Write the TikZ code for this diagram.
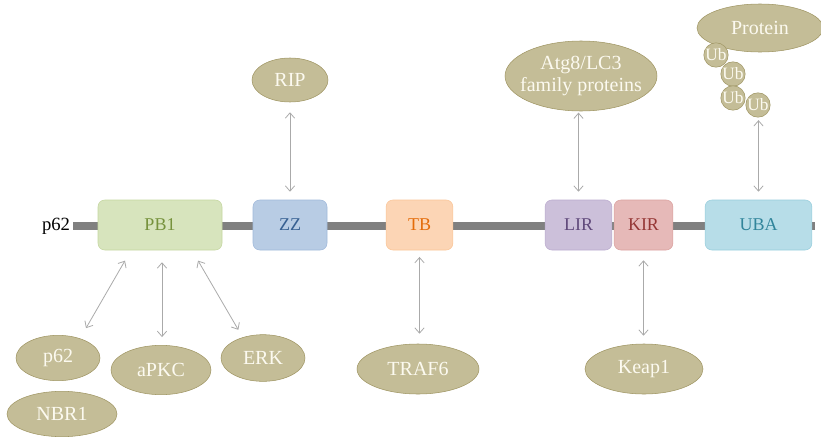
\documentclass[tikz,border=0pt]{standalone}
\usepackage{fontspec}
\setmainfont{Liberation Serif}
\usetikzlibrary{shapes.geometric,arrows.meta}
\definecolor{tan}{RGB}{196,189,151}
\definecolor{tanline}{RGB}{160,150,100}
\definecolor{tantext}{RGB}{252,250,240}
\definecolor{linkgray}{RGB}{170,170,170}
\definecolor{pbfill}{RGB}{215,228,189}
\definecolor{pbline}{RGB}{196,214,160}
\definecolor{pbtext}{RGB}{118,146,60}
\definecolor{zzfill}{RGB}{184,204,228}
\definecolor{zzline}{RGB}{160,185,218}
\definecolor{zztext}{RGB}{55,96,146}
\definecolor{tbfill}{RGB}{252,213,181}
\definecolor{tbline}{RGB}{250,196,150}
\definecolor{tbtext}{RGB}{228,108,10}
\definecolor{lirfill}{RGB}{204,192,218}
\definecolor{lirline}{RGB}{186,170,206}
\definecolor{lirtext}{RGB}{96,73,123}
\definecolor{kirfill}{RGB}{230,185,184}
\definecolor{kirline}{RGB}{218,160,158}
\definecolor{kirtext}{RGB}{149,55,53}
\definecolor{ubafill}{RGB}{183,221,232}
\definecolor{ubaline}{RGB}{150,205,220}
\definecolor{ubatext}{RGB}{49,133,155}
\begin{document}
\begin{tikzpicture}[x=0.75pt,y=-0.75pt,
    domainbox/.style={draw,rectangle,rounded corners=5pt,minimum height=37.5pt,inner sep=0pt,font=\fontsize{13.5}{15}\selectfont},
    partner/.style={ellipse,draw=tanline,fill=tan,text=tantext,inner sep=0pt,align=center,font=\fontsize{15}{17}\selectfont},
    ub/.style={circle,draw=tanline,fill=tan,text=tantext,minimum size=18pt,inner sep=0pt,font=\fontsize{13}{13}\selectfont},
    link/.style={<->,>={Straight Barb[length=4pt,width=7pt]},draw=linkgray,line width=0.6pt}]
    \useasboundingbox (0,0) rectangle (821,443);
    \coordinate (chainstart) at (73,226);
    \coordinate (chainend) at (815,226);
    \draw[line width=6pt,gray] (chainstart) -- (chainend);
    \node[left,inner sep=2pt,font=\fontsize{14}{16}\selectfont] (p62lbl) at (chainstart) {p62};
    \node[domainbox,draw=pbline,fill=pbfill,text=pbtext,minimum width=93pt] (pb1) at (160,225) {PB1};
    \node[domainbox,draw=zzline,fill=zzfill,text=zztext,minimum width=55.5pt] (zz) at (290,225) {ZZ};
    \node[domainbox,draw=tbline,fill=tbfill,text=tbtext,minimum width=50pt] (tb) at (419.5,225) {TB};
    \node[domainbox,draw=lirline,fill=lirfill,text=lirtext,minimum width=50pt] (lir) at (578.5,225) {LIR};
    \node[domainbox,draw=kirline,fill=kirfill,text=kirtext,minimum width=44pt] (kir) at (643.5,225) {KIR};
    \node[domainbox,draw=ubaline,fill=ubafill,text=ubatext,minimum width=80pt] (uba) at (758.5,225) {UBA};
    \node[partner,minimum width=57pt,minimum height=33pt] (rip) at (290,80) {RIP};
    \node[partner,inner xsep=-5.5pt,minimum width=114pt,minimum height=52.5pt] (atg) at (581,76) {Atg8/LC3\\family proteins};
    \node[partner,minimum width=94.5pt,minimum height=36pt] (protein) at (760,28) {Protein};
    \node[ub] (ubA) at (716,55) {Ub};
    \node[ub] (ubB) at (733,74) {Ub};
    \node[ub] (ubC) at (733,98) {Ub};
    \node[ub] (ubD) at (758,105) {Ub};
    \node[partner,minimum width=91.5pt,minimum height=37.5pt] (traf) at (418,369) {TRAF6};
    \node[partner,minimum width=88.5pt,minimum height=37.5pt] (keap) at (644,369) {Keap1};
    \node[partner,minimum width=63pt,minimum height=34pt] (p62b) at (58,358) {p62};
    \node[partner,minimum width=82.5pt,minimum height=34pt] (nbr) at (62,414) {NBR1};
    \node[partner,minimum width=75pt,minimum height=37pt] (apkc) at (161,370) {aPKC};
    \node[partner,minimum width=63pt,minimum height=35pt] (erk) at (263,358) {ERK};
    \draw[link,shorten <=7.5pt,shorten >=6pt] (rip) -- (zz);
    \draw[link,shorten <=1pt,shorten >=6pt] (lir |- atg.south) -- (lir.north);
    \draw[link,shorten <=2pt,shorten >=6pt] (uba |- ubD.south) -- (uba.north);
    \draw[link,shorten <=5pt,shorten >=7.5pt] (tb) -- (tb |- traf.north);
    \draw[link,shorten <=7.5pt,shorten >=6pt] (kir.south) -- (kir |- keap.north);
    \draw[link,shorten <=9pt,shorten >=6pt] ([xshift=-21.75pt]pb1.south) -- ([xshift=18pt]p62b.north);
    \draw[link,shorten <=9pt,shorten >=6pt] ([xshift=1.5pt]pb1.south) -- ([xshift=1.5pt]pb1.south |- apkc.north);
    \draw[link,shorten <=9pt,shorten >=4pt] ([xshift=24pt]pb1.south) -- ([xshift=-16.5pt]erk.north);
\end{tikzpicture}
\end{document}
